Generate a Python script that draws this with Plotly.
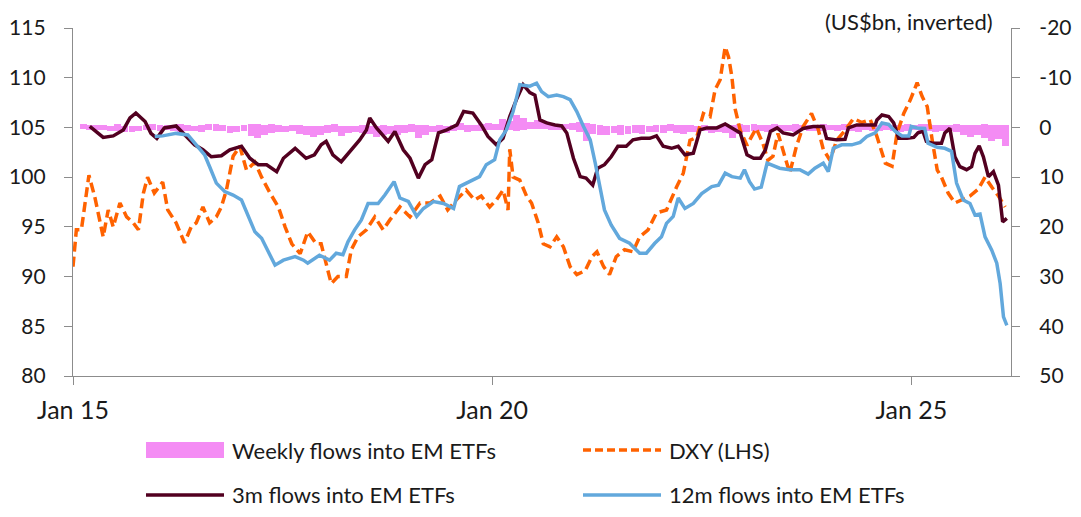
"""
EM ETF flows vs DXY - recreated with plotly.
"""

import numpy as np
import pandas as pd
import plotly.graph_objects as go

START = pd.Timestamp("2015-01-01")

# DXY (LHS) - time in years since 1 Jan 2015, index level
dxy_t = [0.00, 0.04, 0.10, 0.19, 0.26, 0.36, 0.42, 0.48, 0.56, 0.64, 0.72, 0.78, 0.84, 0.89, 0.97,
         1.07, 1.13, 1.23, 1.33, 1.41, 1.47, 1.55, 1.63, 1.71, 1.77, 1.83, 1.91, 1.99,
         2.07, 2.17, 2.25, 2.35, 2.45, 2.53, 2.61, 2.71, 2.80, 2.90, 2.96,
         3.02, 3.08, 3.16, 3.26, 3.32, 3.40, 3.50, 3.60, 3.70, 3.78, 3.90,
         4.02, 4.14, 4.26, 4.38, 4.47, 4.57, 4.69, 4.79, 4.87, 4.97,
         5.05, 5.13, 5.19, 5.21, 5.25, 5.33, 5.41, 5.47, 5.55, 5.61, 5.69, 5.77, 5.85, 5.93,
         6.01, 6.11, 6.19, 6.25, 6.33, 6.40, 6.48, 6.58, 6.68, 6.76, 6.86, 6.96,
         7.08, 7.20, 7.28, 7.36, 7.44, 7.52, 7.60, 7.66, 7.72, 7.78, 7.82, 7.86, 7.90, 7.96,
         8.04, 8.09, 8.15, 8.23, 8.29, 8.35, 8.41, 8.47, 8.55, 8.63, 8.71, 8.81, 8.89, 8.95,
         9.03, 9.11, 9.21, 9.31, 9.41, 9.51, 9.59, 9.69, 9.77, 9.83, 9.91, 9.99,
         10.07, 10.13, 10.19, 10.25, 10.31, 10.36, 10.44, 10.52, 10.60, 10.70, 10.80, 10.88, 10.96,
         11.04, 11.12]
dxy = [91.0, 94.7, 94.7, 100.2, 98.0, 94.0, 96.7, 95.0, 97.4, 96.0, 95.4, 94.7, 98.4, 100.0, 98.4,
       99.5, 96.7, 95.4, 93.4, 95.0, 95.4, 97.0, 95.4, 96.0, 97.0, 98.7, 102.1, 103.1,
       100.7, 101.5, 100.0, 98.4, 97.0, 95.0, 93.3, 92.3, 94.5, 93.3, 93.3,
       91.3, 89.3, 90.0, 90.0, 92.7, 94.0, 94.7, 96.0, 94.7, 95.7, 97.0,
       96.0, 97.4, 97.4, 98.1, 96.7, 97.7, 98.7, 97.7, 98.1, 97.0,
       97.7, 98.7, 96.7, 102.8, 100.0, 99.7, 98.1, 97.4, 95.4, 93.3, 93.0, 94.0, 93.0, 91.0,
       90.2, 90.6, 92.0, 92.5, 91.0, 90.2, 92.0, 92.7, 92.5, 94.0, 94.7, 96.4,
       96.7, 99.0, 100.4, 103.7, 104.0, 106.4, 106.1, 108.8, 109.8, 113.1, 112.1, 110.1, 106.8, 104.7,
       103.2, 104.0, 104.9, 103.4, 101.7, 102.1, 104.4, 102.7, 100.4, 103.1, 105.1, 106.4, 104.8, 102.8,
       101.7, 103.7, 104.7, 105.9, 105.5, 105.8, 104.1, 101.4, 101.1, 104.4, 106.4, 107.8,
       109.5, 108.1, 107.1, 103.7, 100.7, 100.0, 98.4, 97.4, 97.7, 98.1, 98.8, 100.0, 99.0,
       98.1, 97.0]

# 3m flows into EM ETFs (US$bn, RHS inverted)
flow3m_t = [0.20, 0.28, 0.36, 0.48, 0.60, 0.68, 0.75, 0.86, 0.93, 1.00, 1.09, 1.23, 1.33, 1.45,
            1.55, 1.65, 1.77, 1.87, 2.01, 2.11, 2.21, 2.31, 2.43, 2.51, 2.65, 2.71, 2.78, 2.88,
            2.96, 3.02, 3.10, 3.20, 3.30, 3.42, 3.50, 3.54, 3.62, 3.76, 3.84, 3.94, 4.02, 4.12,
            4.20, 4.28, 4.36, 4.46, 4.58, 4.66, 4.77, 4.87, 4.95, 5.05, 5.13, 5.21, 5.29, 5.37,
            5.45, 5.51, 5.57, 5.65, 5.75, 5.83, 5.89, 5.97, 6.05, 6.12, 6.20, 6.26, 6.34, 6.42,
            6.50, 6.60, 6.68, 6.78, 6.88, 6.96, 7.04, 7.14, 7.22, 7.30, 7.40, 7.48, 7.56, 7.68,
            7.78, 7.86, 7.96, 8.04, 8.12, 8.20, 8.26, 8.32, 8.40, 8.47, 8.59, 8.71, 8.83, 8.95,
            8.99, 9.11, 9.21, 9.25, 9.35, 9.47, 9.57, 9.59, 9.65, 9.73, 9.79, 9.85, 9.95, 10.03,
            10.08, 10.14, 10.18, 10.26, 10.36, 10.40, 10.46, 10.52, 10.58, 10.66, 10.72, 10.76,
            10.81, 10.86, 10.92, 10.98, 11.04, 11.09, 11.14]
flow3m = [-0.2, 1.0, 2.0, 1.7, 0.5, -1.9, -2.9, -1.2, 1.2, 2.2, 0.1, -0.3, 1.5, 3.5,
          4.5, 5.9, 5.7, 4.5, 3.8, 6.2, 7.5, 7.5, 8.9, 6.2, 4.2, 5.1, 6.2, 5.5,
          3.5, 2.8, 5.5, 6.9, 4.8, 2.5, 0.5, -1.9, 0.1, 2.8, 0.8, 4.5, 6.2, 10.2,
          7.5, 6.5, 1.1, 0.5, -0.5, -3.2, -2.9, -0.5, 1.8, 3.5, 2.2, -2.2, -5.6, -8.6,
          -7.0, -6.5, -1.5, -0.9, -0.5, -0.3, 1.1, 6.2, 9.9, 10.2, 11.6, 8.2, 7.5, 5.9,
          3.8, 3.8, 2.5, 2.2, 2.2, 1.7, 3.8, 4.2, 3.8, 5.5, 5.2, 0.5, 0.1, 0.1,
          -0.7, 0.1, 1.1, 5.5, 6.2, 6.2, 4.5, 0.8, 0.1, 1.1, 1.5, 0.2, -0.2, -0.2,
          2.2, 2.5, 2.4, 0.1, -0.5, -0.5, -0.5, -1.5, -2.5, -2.2, -0.9, 2.2, 2.2, 2.0,
          1.1, 0.8, 2.8, 3.2, 3.2, 1.1, 0.2, 5.9, 7.9, 8.5, 7.9, 5.2,
          3.7, 5.9, 9.9, 8.9, 11.6, 19.0, 18.3]

# 12m flows into EM ETFs (US$bn, RHS inverted)
flow12m_t = [0.975, 1.07, 1.23, 1.37, 1.47, 1.57, 1.63, 1.71, 1.81, 1.91, 2.01, 2.09, 2.17, 2.25,
             2.33, 2.41, 2.51, 2.65, 2.75, 2.80, 2.94, 3.06, 3.14, 3.22, 3.28, 3.36, 3.44, 3.52,
             3.64, 3.72, 3.83, 3.90, 4.00, 4.10, 4.18, 4.30, 4.42, 4.54, 4.61, 4.73, 4.85, 4.93,
             5.03, 5.09, 5.17, 5.25, 5.33, 5.45, 5.53, 5.59, 5.67, 5.77, 5.85, 5.93, 6.01, 6.09,
             6.17, 6.23, 6.29, 6.34, 6.42, 6.52, 6.64, 6.76, 6.84, 6.94, 7.02, 7.08, 7.16, 7.22,
             7.30, 7.40, 7.50, 7.62, 7.70, 7.78, 7.86, 7.96, 8.01, 8.07, 8.13, 8.21, 8.28, 8.32,
             8.43, 8.55, 8.67, 8.77, 8.85, 8.95, 9.01, 9.07, 9.17, 9.29, 9.39, 9.47, 9.57, 9.65,
             9.73, 9.81, 9.89, 9.97, 10.00, 10.07, 10.16, 10.20, 10.31, 10.40, 10.48, 10.54,
             10.62, 10.70, 10.76, 10.82, 10.88, 10.96, 11.02, 11.06, 11.10, 11.14]
flow12m = [1.8, 1.7, 1.2, 1.5, 3.5, 5.5, 7.9, 11.2, 12.9, 13.6, 14.6, 17.9, 21.0, 22.3,
           25.0, 27.7, 26.7, 26.0, 26.7, 27.3, 25.7, 26.7, 25.3, 25.6, 23.0, 20.6, 18.6, 15.3,
           15.3, 13.6, 10.9, 14.2, 14.9, 17.9, 16.3, 14.9, 15.3, 16.3, 11.9, 10.9, 9.9, 7.5,
           6.5, 2.5, 0.5, -3.2, -8.6, -8.3, -8.9, -7.2, -6.2, -6.5, -6.2, -5.6, -3.2, -0.2,
           2.5, 7.2, 12.6, 16.6, 19.6, 22.3, 23.3, 25.3, 25.3, 23.3, 22.0, 19.3, 17.9, 14.2,
           16.3, 15.3, 13.3, 11.9, 11.6, 9.2, 9.9, 10.2, 8.5, 10.9, 12.4, 12.0, 7.2, 7.5,
           8.2, 8.5, 8.5, 9.4, 8.2, 7.2, 8.9, 4.2, 3.5, 3.5, 3.0, 1.8, 1.1, -0.9,
           -0.6, 0.8, 1.7, 1.7, -0.2, 0.1, 0.2, 3.2, 4.0, 4.2, 4.8, 11.2,
           14.6, 15.3, 17.6, 17.4, 22.0, 24.7, 27.3, 31.4, 38.1, 39.8]

# Weekly flows into EM ETFs, monthly envelope (US$bn): largest inflow week / largest outflow week
weekly_month = pd.date_range("2015-01-15", "2026-02-15", freq="MS") + pd.Timedelta(days=14)
weekly_in = [-0.6, -0.5, -0.5, -0.4, -0.3, -0.6, -0.3, -0.2, -0.3, -0.5, -0.6, -0.4,
             -0.5, -0.4, -0.6, -0.5, -0.3, -0.4, -0.7, -0.6, -0.5, -0.3, -0.2, -0.4,
             -0.6, -0.7, -0.5, -0.6, -0.4, -0.3, -0.5, -0.4, -0.3, -0.2, -0.3, -0.4,
             -0.6, -0.3, -0.2, -0.3, -0.4, -0.2, -0.3, -0.4, -0.3, -0.4, -0.5, -0.6,
             -0.5, -0.4, -0.3, -0.5, -0.3, -0.4, -0.8, -0.5, -0.4, -0.6, -0.8, -0.7,
             -1.7, -1.2, -2.5, -1.8, -1.0, -1.5, -1.3, -0.8, -0.7, -0.6, -0.8, -1.0,
             -0.9, -0.6, -0.4, -0.3, -0.3, -0.4, -0.3, -0.4, -0.4, -0.3, -0.5, -0.4,
             -0.6, -0.5, -0.4, -0.5, -0.3, -0.4, -0.3, -0.3, -0.4, -0.5, -0.6, -0.5,
             -0.6, -0.5, -0.5, -0.6, -0.4, -0.5, -0.6, -0.5, -0.4, -0.5, -0.6, -0.5,
             -0.5, -0.6, -0.5, -0.4, -0.6, -0.5, -0.5, -0.6, -0.5, -0.5, -0.6, -0.5,
             -0.7, -0.6, -0.5, -0.4, -0.5, -0.6, -0.5, -0.4, -0.5, -0.6, -0.5, -0.4,
             -0.4, -0.3]
weekly_out = [0.4, 0.5, 0.5, 0.6, 0.8, 0.7, 0.9, 1.0, 0.8, 0.5, 0.6, 0.8,
              0.6, 0.7, 0.9, 0.8, 0.7, 0.9, 0.6, 0.7, 0.8, 1.1, 0.9, 0.7,
              1.8, 2.1, 1.5, 1.2, 0.9, 1.0, 0.8, 1.4, 1.6, 1.9, 1.5, 1.2,
              1.0, 1.7, 1.2, 0.9, 1.1, 1.4, 2.0, 1.5, 1.3, 1.6, 1.2, 1.0,
              2.2, 1.6, 1.0, 0.9, 1.1, 0.8, 0.6, 0.9, 0.8, 0.7, 0.6, 0.5,
              0.5, 0.6, 0.8, 0.5, 0.4, 0.3, 0.4, 0.5, 0.6, 0.4, 0.5, 0.9,
              2.8, 1.4, 1.6, 1.5, 1.2, 1.5, 1.4, 1.1, 1.3, 1.0, 0.9, 1.2,
              0.8, 1.1, 1.3, 0.9, 1.0, 0.8, 1.2, 0.9, 1.1, 2.2, 1.4, 1.0,
              0.8, 0.7, 0.9, 0.6, 0.8, 0.7, 0.9, 0.6, 0.7, 0.8, 0.7, 0.6,
              0.7, 0.6, 0.8, 0.9, 0.6, 0.7, 0.8, 0.6, 0.7, 0.9, 0.7, 0.6,
              0.8, 0.7, 0.9, 0.8, 0.7, 0.9, 1.5, 2.0, 1.6, 2.2, 2.8, 2.4,
              3.8, 3.2]

x_ticks = ["2015-01-01", "2020-01-01", "2025-01-01"]
x_tick_labels = ["Jan 15", "Jan 20", "Jan 25"]
dxy_ticks = [80, 85, 90, 95, 100, 105, 110, 115]
flow_ticks = [-20, -10, 0, 10, 20, 30, 40, 50]
flow_tick_labels = ["-20", "-10", "0", "10", "20", "30", "40", "50"]

PINK = "#F48CF4"
ORANGE = "#FF6200"
MAROON = "#520020"
BLUE = "#62A8DC"
AXIS = "#8C8C8C"
FONT = "Lato"
TEXT = "#1a1a1a"


def to_dates(years):
    return START + pd.to_timedelta(np.array(years) * 365.25, unit="D")


fig = go.Figure()

# weekly flows as bars on y (right, inverted)
month_ms = 30 * 24 * 3600 * 1000
for vals in (weekly_in, weekly_out):
    fig.add_trace(go.Bar(x=weekly_month, y=vals, yaxis="y", marker_color=PINK,
                         marker_line_width=0, width=month_ms, showlegend=False))

fig.add_trace(go.Scatter(x=to_dates(dxy_t), y=dxy, yaxis="y2", mode="lines",
                         line=dict(color=ORANGE, width=3.5, dash="10px,5px"), showlegend=False))
fig.add_trace(go.Scatter(x=to_dates(flow3m_t), y=flow3m, yaxis="y3", mode="lines",
                         line=dict(color=MAROON, width=3.5), showlegend=False))
fig.add_trace(go.Scatter(x=to_dates(flow12m_t), y=flow12m, yaxis="y3", mode="lines",
                         line=dict(color=BLUE, width=3.5), showlegend=False))

axis_common = dict(showgrid=False, zeroline=False, showline=True, linecolor=AXIS, linewidth=1.3,
                   ticks="outside", ticklen=8, tickcolor=AXIS, automargin=False)
y_tick_font = dict(family=FONT, size=21, color=TEXT)

# the page body adds an 8px offset, so the figure is 8px smaller than the window
fig.update_layout(
    width=1073, height=509,
    margin=dict(l=65, r=70, t=20, b=141),
    paper_bgcolor="white", plot_bgcolor="white",
    barmode="overlay", bargap=0,
    font=dict(family=FONT, color=TEXT),
    xaxis=dict(type="date", range=["2015-01-01", "2026-03-11"],
               tickvals=x_ticks, ticktext=x_tick_labels, ticklabelstandoff=4,
               tickfont=dict(family=FONT, size=25, color=TEXT), **axis_common),
    yaxis=dict(side="right", range=[50, -20], tickvals=flow_ticks, ticktext=flow_tick_labels,
               ticklabelstandoff=15, tickfont=y_tick_font, **axis_common),
    yaxis2=dict(side="left", overlaying="y", range=[80, 115], tickvals=dxy_ticks,
                ticklabelstandoff=14, tickfont=y_tick_font, **axis_common),
    yaxis3=dict(overlaying="y", range=[50, -20], visible=False),
)

fig.add_annotation(text="(US$bn, inverted)", xref="paper", yref="paper", x=0.983, y=1.018,
                   xanchor="right", yanchor="middle", showarrow=False,
                   font=dict(family=FONT, size=22, color=TEXT))

# legend drawn by hand: two rows, two columns (positions in window pixels)
plot_w, plot_h = 938, 348
def px_x(px):
    return (px - 73) / plot_w
def px_y(py):
    return (376 - py) / plot_h

rows = [450, 495]
legend = [
    ("Weekly flows into EM ETFs", 146, rows[0], "bar", PINK),
    ("DXY (LHS)", 583, rows[0], "dash", ORANGE),
    ("3m flows into EM ETFs", 146, rows[1], "solid", MAROON),
    ("12m flows into EM ETFs", 583, rows[1], "solid", BLUE),
]
for label, x0, y0, kind, color in legend:
    if kind == "bar":
        fig.add_shape(type="rect", xref="paper", yref="paper",
                      x0=px_x(x0), x1=px_x(x0 + 78), y0=px_y(y0 + 8), y1=px_y(y0 - 8),
                      fillcolor=color, line_width=0)
    else:
        fig.add_shape(type="line", xref="paper", yref="paper",
                      x0=px_x(x0), x1=px_x(x0 + 78), y0=px_y(y0), y1=px_y(y0),
                      line=dict(color=color, width=3.5, dash="8px,4px" if kind == "dash" else "solid"))
    fig.add_annotation(text=label, xref="paper", yref="paper", x=px_x(x0 + 84), y=px_y(y0),
                       xanchor="left", yanchor="middle", showarrow=False,
                       font=dict(family=FONT, size=22, color=TEXT))

fig.write_html("out.html")
